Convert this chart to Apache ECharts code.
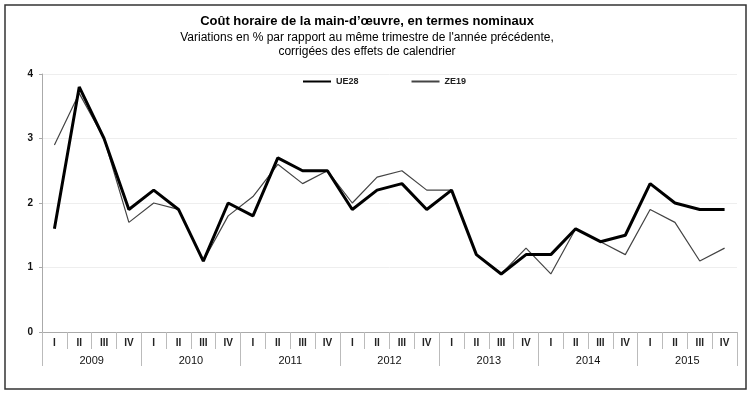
<!DOCTYPE html>
<html>
<head>
<meta charset="utf-8">
<script src="https://cdn.jsdelivr.net/npm/echarts@6/dist/echarts.min.js"></script>
<style>
  html, body { margin: 0; padding: 0; background: #fff; }
  #chart1 { width: 750px; height: 399px; }
</style>
</head>
<body>
<div id="chart1"></div>
<script>
var quarters = ['I', 'II', 'III', 'IV'];
var years = ['2009', '2010', '2011', '2012', '2013', '2014', '2015'];

// UE28 et ZE19, variations en %
var ue28 = [1.6, 3.8, 3.0, 1.9, 2.2, 1.9, 1.1, 2.0, 1.8, 2.7, 2.5, 2.5, 1.9, 2.2,
            2.3, 1.9, 2.2, 1.2, 0.9, 1.2, 1.2, 1.6, 1.4, 1.5, 2.3, 2.0, 1.9, 1.9];
var ze19 = [2.9, 3.7, 3.0, 1.7, 2.0, 1.9, 1.1, 1.8, 2.1, 2.6, 2.3, 2.5, 2.0, 2.4,
            2.5, 2.2, 2.2, 1.2, 0.9, 1.3, 0.9, 1.6, 1.4, 1.2, 1.9, 1.7, 1.1, 1.3];

var quarterLabels = [];
years.forEach(function() {
    quarters.forEach(function(q) { quarterLabels.push(q); });
});

var font = 'Liberation Sans';
var dom = document.getElementById('chart1');
var myChart = echarts.init(dom);

myChart.setOption({
    animation: false,
    textStyle: { fontFamily: font },
    title: {
        text: 'Coût horaire de la main-d’œuvre, en termes nominaux',
        subtext: "Variations en % par rapport au même trimestre de l'année précédente,\ncorrigées des effets de calendrier",
        left: 362,
        top: 10,
        textAlign: 'center',
        itemGap: 3,
        textStyle: { fontFamily: font, fontSize: 13, fontWeight: 'bold', color: '#000' },
        subtextStyle: { fontFamily: font, fontSize: 12, color: '#000', lineHeight: 14 }
    },
    legend: {
        top: 72,
        left: 297,
        itemWidth: 28,
        itemHeight: 8,
        itemGap: 52,
        itemStyle: { opacity: 0 },
        textStyle: { fontFamily: font, fontSize: 9, fontWeight: 'bold', color: '#222' },
        data: ['UE28', 'ZE19']
    },
    graphic: [{
        type: 'rect',
        shape: { x: 5, y: 5, width: 741, height: 384 },
        style: { fill: 'none', stroke: '#333', lineWidth: 1.5 }
    }],
    grid: { left: 42, right: 13, top: 74, bottom: 67 },
    xAxis: [{
        type: 'category',
        data: quarterLabels,
        boundaryGap: true,
        axisLine: { lineStyle: { color: '#aaa' } },
        axisTick: { show: true, interval: 0, length: 17, lineStyle: { color: '#bbb' } },
        axisLabel: { interval: 0, margin: 6, fontSize: 10, fontWeight: 'bold', color: '#222' }
    }, {
        type: 'category',
        data: years,
        position: 'bottom',
        offset: 17,
        boundaryGap: true,
        axisLine: { show: false },
        axisTick: { show: true, interval: 0, length: 17, lineStyle: { color: '#bbb' } },
        axisLabel: { interval: 0, margin: 6, fontSize: 11, color: '#111' }
    }],
    yAxis: {
        type: 'value',
        min: 0,
        max: 4,
        interval: 1,
        axisLine: { show: true, lineStyle: { color: '#aaa' } },
        axisTick: { show: true, length: 3, lineStyle: { color: '#aaa' } },
        axisLabel: { fontSize: 10, fontWeight: 'bold', color: '#111', margin: 9 },
        splitLine: { lineStyle: { color: '#eee' } }
    },
    series: [{
        name: 'UE28',
        type: 'line',
        data: ue28,
        symbol: 'none',
        z: 3,
        lineStyle: { color: '#000', width: 3 },
        itemStyle: { color: '#000' }
    }, {
        name: 'ZE19',
        type: 'line',
        data: ze19,
        symbol: 'none',
        z: 2,
        lineStyle: { color: '#444', width: 1.2 },
        itemStyle: { color: '#444' }
    }]
});
</script>
</body>
</html>
